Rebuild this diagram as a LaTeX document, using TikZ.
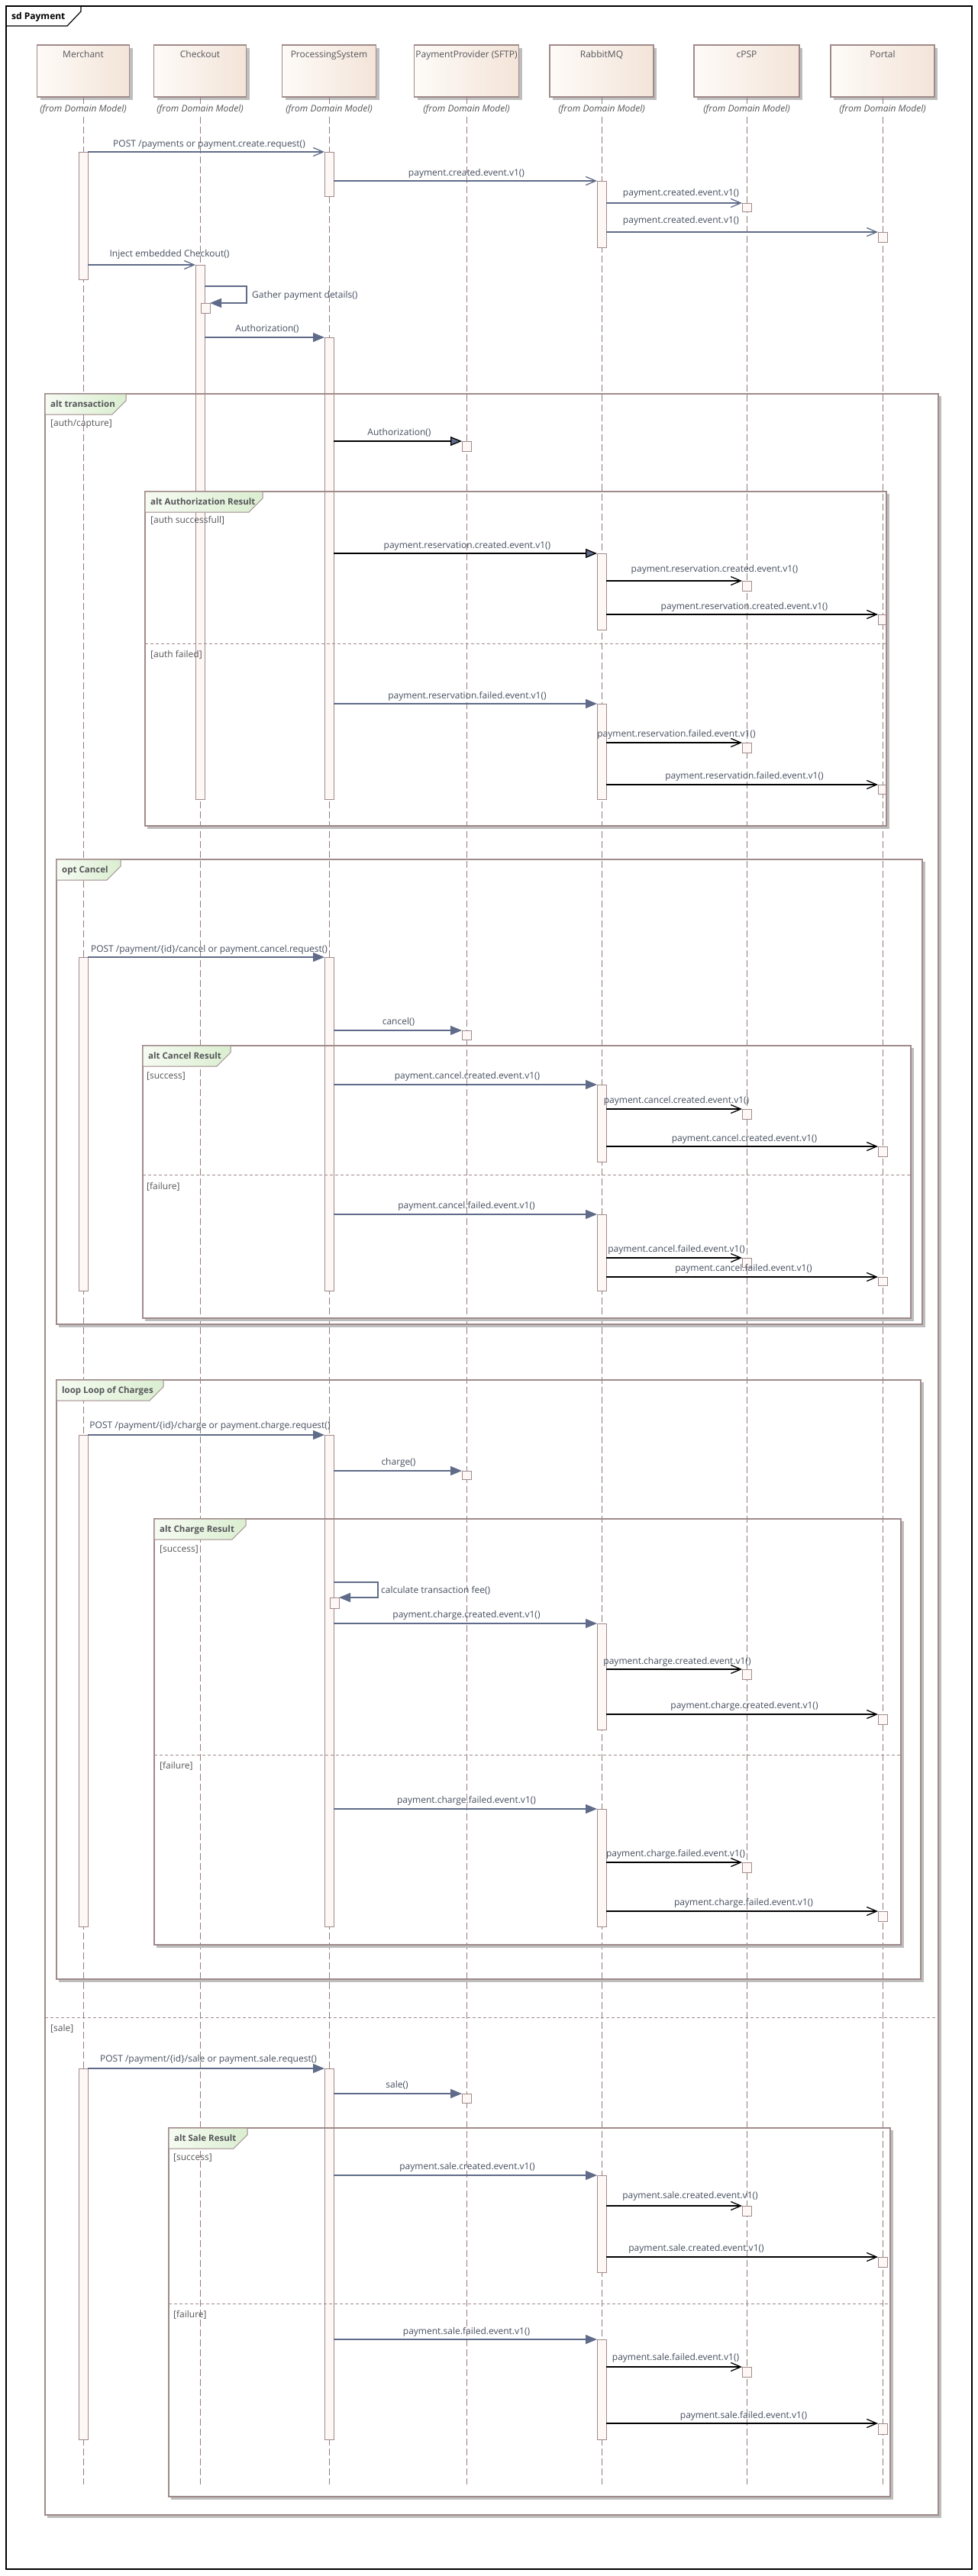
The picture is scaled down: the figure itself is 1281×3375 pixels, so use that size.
\documentclass[tikz,border=0pt]{standalone}
\usepackage{fontspec}
\setmainfont{Open Sans}
\usetikzlibrary{arrows.meta,shadows}
\definecolor{gb}{RGB}{95,107,137}
\definecolor{txt}{RGB}{70,78,94}
\definecolor{frc}{RGB}{160,138,138}
\definecolor{llc}{RGB}{150,124,124}
\definecolor{actf}{RGB}{253,248,246}
\definecolor{actb}{RGB}{162,138,138}
\definecolor{headL}{RGB}{254,251,248}
\definecolor{headR}{RGB}{243,228,216}
\definecolor{tabL}{RGB}{246,251,242}
\definecolor{tabR}{RGB}{218,238,208}
\definecolor{shc}{RGB}{190,190,190}
\definecolor{gtxt}{RGB}{85,85,90}
\tikzset{
  lifeline/.style={draw=llc, line width=1pt, dash pattern=on 9pt off 4pt},
  actbox/.style={draw=actb, fill=actf, line width=1pt, minimum width=12pt, inner sep=0pt, outer sep=0pt, anchor=north},
  headbox/.style={draw=frc, line width=1.2pt, left color=headL, right color=headR, minimum height=68pt, inner sep=0pt, outer sep=0pt, anchor=north, drop shadow={shadow xshift=4pt, shadow yshift=-4pt, fill=shc, opacity=1}},
  headname/.style={font=\fontsize{12}{14}\selectfont, text=gtxt, anchor=base, inner sep=0pt},
  fromlbl/.style={font=\fontsize{12}{14}\selectfont\itshape, text=gtxt, fill=white, inner sep=1pt, anchor=base},
  msglbl/.style={font=\fontsize{12}{14}\selectfont, text=txt, anchor=base, inner sep=0pt},
  msglblw/.style={msglbl, anchor=base west},
  guard/.style={font=\fontsize{12}{14}\selectfont, text=gtxt, anchor=base west, inner sep=0pt},
  tablbl/.style={font=\fontsize{11.5}{14}\selectfont\bfseries, text=gtxt, anchor=base west, inner sep=0pt},
  gbo/.style={draw=gb, line width=1.3pt, -{Straight Barb[length=13pt,width=11pt]}},
  gbf/.style={draw=gb, line width=1.3pt, -{Triangle[length=15pt,width=12pt,fill=gb]}},
  blo/.style={draw=black, line width=1.3pt, -{Straight Barb[length=13pt,width=11pt]}},
  blf/.style={draw=black, line width=1.3pt, -{Triangle[length=15pt,width=12pt,fill=gb]}},
  frameline/.style={draw=frc, line width=1.3pt},
  framesh/.style={draw=shc, line width=2.5pt},
  sepline/.style={draw=frc, line width=1pt, dash pattern=on 4pt off 3pt},
}
\newcommand\act[4]{\node[actbox, minimum height={(#4-#3)*1pt}] (#1) at (#2,#3) {};}
\newcommand\lbl[4]{\node[msglbl] (#1) at (#2,#3+3.5) {#4};}
\newcommand\frag[7]{%
  \draw[framesh] (#3+2.5,#2+3) -- (#3+2.5,#4+2.5) -- (#1+3,#4+2.5);
  \draw[frameline] (#1,#2) rectangle (#3,#4);
  \shadedraw[left color=tabL, right color=tabR, draw=frc, line width=1pt] (#1,#2) -- (#5,#2) -- (#5,#2+9) -- (#5-18,#2+27) -- (#1,#2+27) -- cycle;
  \node[tablbl] (#7) at (#1+7,#2+17.5) {#6};
}
\begin{document}
\begin{tikzpicture}[x=1pt,y=-1pt]
\useasboundingbox (0,0) rectangle (1281,3375);
\fill[white] (0,0) rectangle (1281,3375);
% outer frame
\draw[black, line width=1.2pt] (8,8) rectangle (1273,3366);
\draw[black, line width=1.2pt] (8,34) -- (88,34) -- (106,15) -- (106,8);
\node[font=\fontsize{12}{14}\selectfont\bfseries, anchor=base west, inner sep=0pt] (sd) at (15,25.5) {sd Payment};

% heads
\node[headbox, minimum width=121pt] (hM) at (109,59) {};
\node[headbox, minimum width=121pt] (hC) at (262,59) {};
\node[headbox, minimum width=123pt] (hP) at (431,59) {};
\node[headbox, minimum width=137pt] (hPP) at (611,59) {};
\node[headbox, minimum width=136pt] (hR) at (788,59) {};
\node[headbox, minimum width=138pt] (hK) at (978,59) {};
\node[headbox, minimum width=136pt] (hQ) at (1156,59) {};
\node[headname] (tM) at (109,75.5) {Merchant};
\node[headname] (tC) at (262,75.5) {Checkout};
\node[headname] (tP) at (431,75.5) {ProcessingSystem};
\node[headname] (tPP) at (611,75.5) {PaymentProvider (SFTP)};
\node[headname] (tR) at (788,75.5) {RabbitMQ};
\node[headname] (tK) at (978,75.5) {cPSP};
\node[headname] (tQ) at (1156,75.5) {Portal};

% lifelines
\coordinate (eM) at (109,3255);
\coordinate (eC) at (262,3255);
\coordinate (eP) at (431,3255);
\coordinate (ePP) at (611,3255);
\coordinate (eR) at (788,3255);
\coordinate (eK) at (978,3255);
\coordinate (eQ) at (1156,3255);
\draw[lifeline] (hM.south) -- (eM);
\draw[lifeline] (hC.south) -- (eC);
\draw[lifeline] (hP.south) -- (eP);
\draw[lifeline] (hPP.south) -- (ePP);
\draw[lifeline] (hR.south) -- (eR);
\draw[lifeline] (hK.south) -- (eK);
\draw[lifeline] (hQ.south) -- (eQ);
\node[fromlbl] (fM) at (109,146.5) {(from Domain Model)};
\node[fromlbl] (fC) at (262,146.5) {(from Domain Model)};
\node[fromlbl] (fP) at (431,146.5) {(from Domain Model)};
\node[fromlbl] (fPP) at (611,146.5) {(from Domain Model)};
\node[fromlbl] (fR) at (788,146.5) {(from Domain Model)};
\node[fromlbl] (fK) at (978,146.5) {(from Domain Model)};
\node[fromlbl] (fQ) at (1156,146.5) {(from Domain Model)};

% activations
\act{m1}{109}{199}{366}
\act{m2}{109}{1254}{1691}
\act{m3}{109}{1880}{2524}
\act{m4}{109}{2710}{3196}
\act{c1}{262}{347}{1047}
\act{c2}{269}{397}{410}
\act{p1}{431}{199}{257}
\act{p2}{431}{442}{1047}
\act{p3}{431}{1254}{1691}
\act{p4}{431}{1880}{2524}
\act{p4b}{438}{2093}{2107}
\act{p5}{431}{2710}{3196}
\act{pp1}{611}{578}{591}
\act{pp2}{611}{1350}{1362}
\act{pp3}{611}{1927}{1938}
\act{pp4}{611}{2743}{2755}
\act{r1}{788}{237}{324}
\act{r2}{788}{725}{825}
\act{r3}{788}{922}{1047}
\act{r4}{788}{1421}{1522}
\act{r5}{788}{1591}{1691}
\act{r6}{788}{2127}{2266}
\act{r7}{788}{2370}{2524}
\act{r8}{788}{2850}{2977}
\act{r9}{788}{3065}{3196}
\act{k1}{978}{266}{277}
\act{k2}{978}{761}{774}
\act{k3}{978}{973}{986}
\act{k4}{978}{1453}{1466}
\act{k5}{978}{1648}{1660}
\act{k6}{978}{2187}{2200}
\act{k7}{978}{2440}{2453}
\act{k8}{978}{2890}{2903}
\act{k9}{978}{3101}{3114}
\act{q1}{1156}{304}{317}
\act{q2}{1156}{805}{818}
\act{q3}{1156}{1028}{1040}
\act{q4}{1156}{1502}{1515}
\act{q5}{1156}{1673}{1684}
\act{q6}{1156}{2246}{2259}
\act{q7}{1156}{2504}{2517}
\act{q8}{1156}{2957}{2970}
\act{q9}{1156}{3175}{3189}

% frames
\frag{59}{516}{1229}{3295}{165}{alt transaction}{F1}
\draw[sepline] (59,2643) -- (1229,2643);
\node[guard] (g1a) at (66,558.5) {[auth/capture]};
\node[guard] (g1b) at (66,2661.5) {[sale]};
\frag{190}{644}{1161}{1082}{344}{alt Authorization Result}{F2}
\draw[sepline] (190,843) -- (1161,843);
\node[guard] (g2a) at (197,685.5) {[auth successfull]};
\node[guard] (g2b) at (197,861.5) {[auth failed]};
\frag{74}{1126}{1208}{1735}{158}{opt Cancel}{F3}
\frag{187}{1370}{1193}{1727}{302}{alt Cancel Result}{F4}
\draw[sepline] (187,1539) -- (1193,1539);
\node[guard] (g4a) at (192,1413.5) {[success]};
\node[guard] (g4b) at (192,1558.5) {[failure]};
\frag{74}{1808}{1206}{2593}{214}{loop Loop of Charges}{F5}
\frag{202}{1990}{1180}{2548}{322}{alt Charge Result}{F6}
\draw[sepline] (202,2299) -- (1180,2299);
\node[guard] (g6a) at (209,2033.5) {[success]};
\node[guard] (g6b) at (209,2317.5) {[failure]};
\frag{221}{2788}{1166}{3271}{324}{alt Sale Result}{F7}
\draw[sepline] (221,3018) -- (1166,3018);
\node[guard] (g7a) at (227,2830.5) {[success]};
\node[guard] (g7b) at (227,3036.5) {[failure]};

% messages: create
\draw[gbo] (m1.north east) -- (p1.north west);
\lbl{L1}{274}{189}{POST /payments or payment.create.request()}
\draw[gbo] (p1.east |- r1.north) -- (r1.north west);
\lbl{L2}{611}{227}{payment.created.event.v1()}
\draw[gbo] (r1.east |- k1.north) -- (k1.north west);
\lbl{L3}{892}{253}{payment.created.event.v1()}
\draw[gbo] (r1.east |- q1.north) -- (q1.north west);
\lbl{L4}{892}{289}{payment.created.event.v1()}
\draw[gbo] (m1.east |- c1.north) -- (c1.north west);
\lbl{L5}{222}{333}{Inject embedded Checkout()}
\coordinate (s1) at (323,375);
\draw[gbf] (c1.east |- s1) -- (s1) |- (c2.north east);
\node[msglblw] (L6) at (330,390.5) {Gather payment details()};
\draw[gbf] (c1.east |- p2.north) -- (p2.north west);
\lbl{L7}{350}{431}{Authorization()}
\draw[blf] (p2.east |- pp1.north) -- (pp1.north west);
\lbl{L8}{523}{567}{Authorization()}
\draw[blf] (p2.east |- r2.north) -- (r2.north west);
\lbl{L9}{612}{715}{payment.reservation.created.event.v1()}
\draw[blo] (r2.east |- k2.north) -- (k2.north west);
\lbl{L10}{936}{746}{payment.reservation.created.event.v1()}
\draw[blo] (r2.east |- q2.north) -- (q2.north west);
\lbl{L11}{975}{795}{payment.reservation.created.event.v1()}
\draw[gbf] (p2.east |- r3.north) -- (r3.north west);
\lbl{L12}{612}{912}{payment.reservation.failed.event.v1()}
\draw[blo] (r3.east |- k3.north) -- (k3.north west);
\lbl{L13}{886}{962}{payment.reservation.failed.event.v1()}
\draw[blo] (r3.east |- q3.north) -- (q3.north west);
\lbl{L14}{975}{1017}{payment.reservation.failed.event.v1()}

% cancel
\draw[gbf] (m2.north east) -- (p3.north west);
\lbl{L15}{274}{1244}{POST /payment/\{id\}/cancel or payment.cancel.request()}
\draw[gbf] (p3.east |- pp2.north) -- (pp2.north west);
\lbl{L16}{522}{1339}{cancel()}
\draw[gbf] (p3.east |- r4.north) -- (r4.north west);
\lbl{L17}{612}{1410}{payment.cancel.created.event.v1()}
\draw[blo] (r4.east |- k4.north) -- (k4.north west);
\lbl{L18}{886}{1442}{payment.cancel.created.event.v1()}
\draw[blo] (r4.east |- q4.north) -- (q4.north west);
\lbl{L19}{975}{1492}{payment.cancel.created.event.v1()}
\draw[gbf] (p3.east |- r5.north) -- (r5.north west);
\lbl{L20}{611}{1580}{payment.cancel.failed.event.v1()}
\draw[blo] (r5.east |- k5.north) -- (k5.north west);
\lbl{L21}{886}{1637}{payment.cancel.failed.event.v1()}
\draw[blo] (r5.east |- q5.north) -- (q5.north west);
\lbl{L22}{974}{1662}{payment.cancel.failed.event.v1()}

% charge
\draw[gbf] (m3.north east) -- (p4.north west);
\lbl{L23}{275}{1868}{POST /payment/\{id\}/charge or payment.charge.request()}
\draw[gbf] (p4.east |- pp3.north) -- (pp3.north west);
\lbl{L24}{522}{1916}{charge()}
\coordinate (s2) at (495,2073);
\draw[gbf] (p4.east |- s2) -- (s2) |- (p4b.north east);
\node[msglblw] (L25) at (499,2087.5) {calculate transaction fee()};
\draw[gbf] (p4.east |- r6.north) -- (r6.north west);
\lbl{L26}{611}{2116}{payment.charge.created.event.v1()}
\draw[blo] (r6.east |- k6.north) -- (k6.north west);
\lbl{L27}{887}{2177}{payment.charge.created.event.v1()}
\draw[blo] (r6.east |- q6.north) -- (q6.north west);
\lbl{L28}{975}{2235}{payment.charge.created.event.v1()}
\draw[gbf] (p4.east |- r7.north) -- (r7.north west);
\lbl{L29}{611}{2359}{payment.charge.failed.event.v1()}
\draw[blo] (r7.east |- k7.north) -- (k7.north west);
\lbl{L30}{885}{2429}{payment.charge.failed.event.v1()}
\draw[blo] (r7.east |- q7.north) -- (q7.north west);
\lbl{L31}{974}{2493}{payment.charge.failed.event.v1()}

% sale
\draw[gbf] (m4.north east) -- (p5.north west);
\lbl{L32}{273}{2698}{POST /payment/\{id\}/sale or payment.sale.request()}
\draw[gbf] (p5.east |- pp4.north) -- (pp4.north west);
\lbl{L33}{520}{2732}{sale()}
\draw[gbf] (p5.east |- r8.north) -- (r8.north west);
\lbl{L34}{612}{2839}{payment.sale.created.event.v1()}
\draw[blo] (r8.east |- k8.north) -- (k8.north west);
\lbl{L35}{904}{2877}{payment.sale.created.event.v1()}
\draw[blo] (r8.east |- q8.north) -- (q8.north west);
\lbl{L36}{912}{2946}{payment.sale.created.event.v1()}
\draw[gbf] (p5.east |- r9.north) -- (r9.north west);
\lbl{L37}{611}{3055}{payment.sale.failed.event.v1()}
\draw[blo] (r9.east |- k9.north) -- (k9.north west);
\lbl{L38}{885}{3089}{payment.sale.failed.event.v1()}
\draw[blo] (r9.east |- q9.north) -- (q9.north west);
\lbl{L39}{974}{3165}{payment.sale.failed.event.v1()}
\end{tikzpicture}
\end{document}
